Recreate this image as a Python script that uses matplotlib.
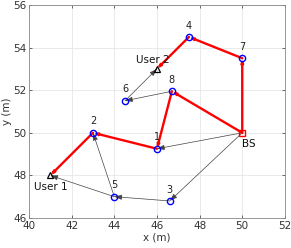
import matplotlib
matplotlib.use("Agg")
import matplotlib.pyplot as plt

node_ids = ["1", "2", "3", "4", "5", "6", "7", "8"]
node_x = [46.0, 43.0, 46.6, 47.5, 44.0, 44.5, 50.0, 46.7]
node_y = [49.25, 50.0, 46.8, 54.5, 47.0, 51.5, 53.5, 51.95]
bs = (50.0, 50.0)
users = {"User 1": (41.0, 48.0), "User 2": (46.0, 53.0)}

pos = {k: (x, y) for k, x, y in zip(node_ids, node_x, node_y)}
pos["BS"] = bs
pos.update(users)

gray_links = [("BS", "3"), ("3", "5"), ("5", "User 1"), ("5", "2"),
              ("8", "6"), ("6", "User 2"), ("BS", "1")]
red_links = [("BS", "8"), ("8", "1"), ("1", "2"), ("2", "User 1"),
             ("BS", "7"), ("7", "4"), ("4", "User 2")]

fig = plt.figure(figsize=(2.91, 2.48), dpi=100)
ax = fig.add_axes([0.0997, 0.121, 0.8793, 0.859])

def draw(a, b, color, lw, hl, hw):
    (x0, y0), (x1, y1) = pos[a], pos[b]
    ax.annotate("", xy=(x1, y1), xytext=(x0, y0),
                arrowprops=dict(arrowstyle=f"-|>,head_length={hl},head_width={hw}",
                                color=color, lw=lw, shrinkA=0, shrinkB=0),
                zorder=3)

for a, b in gray_links:
    draw(a, b, "#444444", 0.5, 0.45, 0.15)
for a, b in red_links:
    draw(a, b, "red", 1.7, 0.18, 0.06)

ax.plot(node_x, node_y, "o", mfc="none", mec="blue", ms=4.5, mew=1.0, zorder=4)
ax.plot([bs[0]], [bs[1]], "s", mfc="none", mec="red", ms=4.5, mew=1.0, zorder=4)
ux = [v[0] for v in users.values()]
uy = [v[1] for v in users.values()]
ax.plot(ux, uy, "^", mfc="none", mec="black", ms=5, mew=0.9, zorder=4)

for k, x, y in zip(node_ids, node_x, node_y):
    ax.text(x, y + 0.3, k, fontsize=7, ha="center", va="bottom", color="#222222")
ax.text(50.0, 49.7, "BS", fontsize=7.5, ha="left", va="top", color="#111111")
ax.text(41.0, 47.7, "User 1", fontsize=7.5, ha="center", va="top", color="#111111")
ax.text(45.8, 53.2, "User 2", fontsize=7.5, ha="center", va="bottom", color="#111111")

ax.set_xlim(40, 52)
ax.set_ylim(46, 56)
ax.set_xticks(range(40, 53, 2))
ax.set_yticks(range(46, 57, 2))
ax.grid(True, color="#e6e6e6", lw=0.6)
ax.set_axisbelow(True)
for s in ax.spines.values():
    s.set_color("#888888")
    s.set_linewidth(0.6)
ax.tick_params(labelsize=7.5, colors="#333333", length=2.5, width=0.5, direction="in",
               top=True, right=True, pad=2)
ax.set_xlabel("x (m)", fontsize=7.5, color="#333333", labelpad=1)
ax.set_ylabel("y (m)", fontsize=7.5, color="#333333", labelpad=1)

fig.savefig("out.png", dpi=100)
